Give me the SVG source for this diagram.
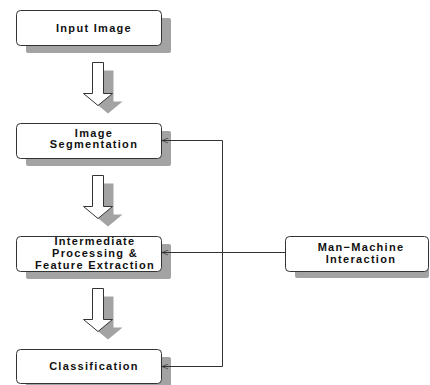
<svg xmlns="http://www.w3.org/2000/svg" width="430" height="385" viewBox="0 0 430 385">
<defs>
<style>
.box{fill:#fff;stroke:#333;stroke-width:1}
.sh{fill:#a3a3a3}
.t{font-family:"Liberation Sans",Arial,sans-serif;font-weight:bold;font-size:11px;letter-spacing:1.3px;fill:#111;text-anchor:middle}
.ln{fill:none;stroke:#333;stroke-width:1}
.ar{fill:#fff;stroke:#333;stroke-width:1}
</style>
<marker id="ah" viewBox="0 0 10 10" refX="10" refY="5" markerWidth="6" markerHeight="6" orient="auto" markerUnits="userSpaceOnUse">
<path d="M0,1 L10,5 L0,9" fill="none" stroke="#333" stroke-width="1.2"/>
</marker>
<path id="barrow" d="M0,0 H11 V31 H20 L5.5,43 L-9,31 H0 Z"/>
</defs>
<rect width="430" height="385" fill="#fff"/>

<g id="input-image">
<rect class="sh" x="26" y="18" width="145" height="35" rx="2"/>
<rect class="box" x="16.5" y="10.5" width="145" height="35" rx="4"/>
<text class="t" x="94" y="31.5">Input Image</text>
</g>

<g id="image-segmentation">
<rect class="sh" x="26" y="131" width="145" height="35" rx="2"/>
<rect class="box" x="16.5" y="123.5" width="145" height="35" rx="4"/>
<text class="t" x="94" y="137">Image</text>
<text class="t" x="94" y="148">Segmentation</text>
</g>

<g id="feature-extraction">
<rect class="sh" x="26" y="244" width="145" height="35" rx="2"/>
<rect class="box" x="16.5" y="236.5" width="145" height="35" rx="4"/>
<text class="t" x="95" y="245">Intermediate</text>
<text class="t" x="95" y="257">Processing &amp;</text>
<text class="t" x="95" y="268.5">Feature Extraction</text>
</g>

<g id="classification">
<rect class="sh" x="26" y="357" width="145" height="35" rx="2"/>
<rect class="box" x="16.5" y="349.5" width="145" height="34" rx="4"/>
<text class="t" x="94" y="370">Classification</text>
</g>

<g id="man-machine">
<rect class="sh" x="295" y="243" width="134" height="35" rx="2"/>
<rect class="box" x="285.5" y="236.5" width="143" height="35" rx="4"/>
<text class="t" x="361" y="251">Man−Machine</text>
<text class="t" x="361" y="262.5">Interaction</text>
</g>

<g id="flow-arrows">
<use href="#barrow" class="sh" x="102.5" y="70.5"/>
<use href="#barrow" class="ar" x="92.5" y="62.5"/>
<use href="#barrow" class="sh" x="102.5" y="183.5"/>
<use href="#barrow" class="ar" x="92.5" y="175.5"/>
<use href="#barrow" class="sh" x="102.5" y="296.5"/>
<use href="#barrow" class="ar" x="92.5" y="288.5"/>
</g>

<g id="connectors">
<path class="ln" d="M222.5,140.5 V366.5"/>
<path class="ln" d="M222.5,140.5 H162" marker-end="url(#ah)"/>
<path class="ln" d="M222.5,366.5 H162" marker-end="url(#ah)"/>
<path class="ln" d="M285.5,252.5 H162" marker-end="url(#ah)"/>
</g>
</svg>
